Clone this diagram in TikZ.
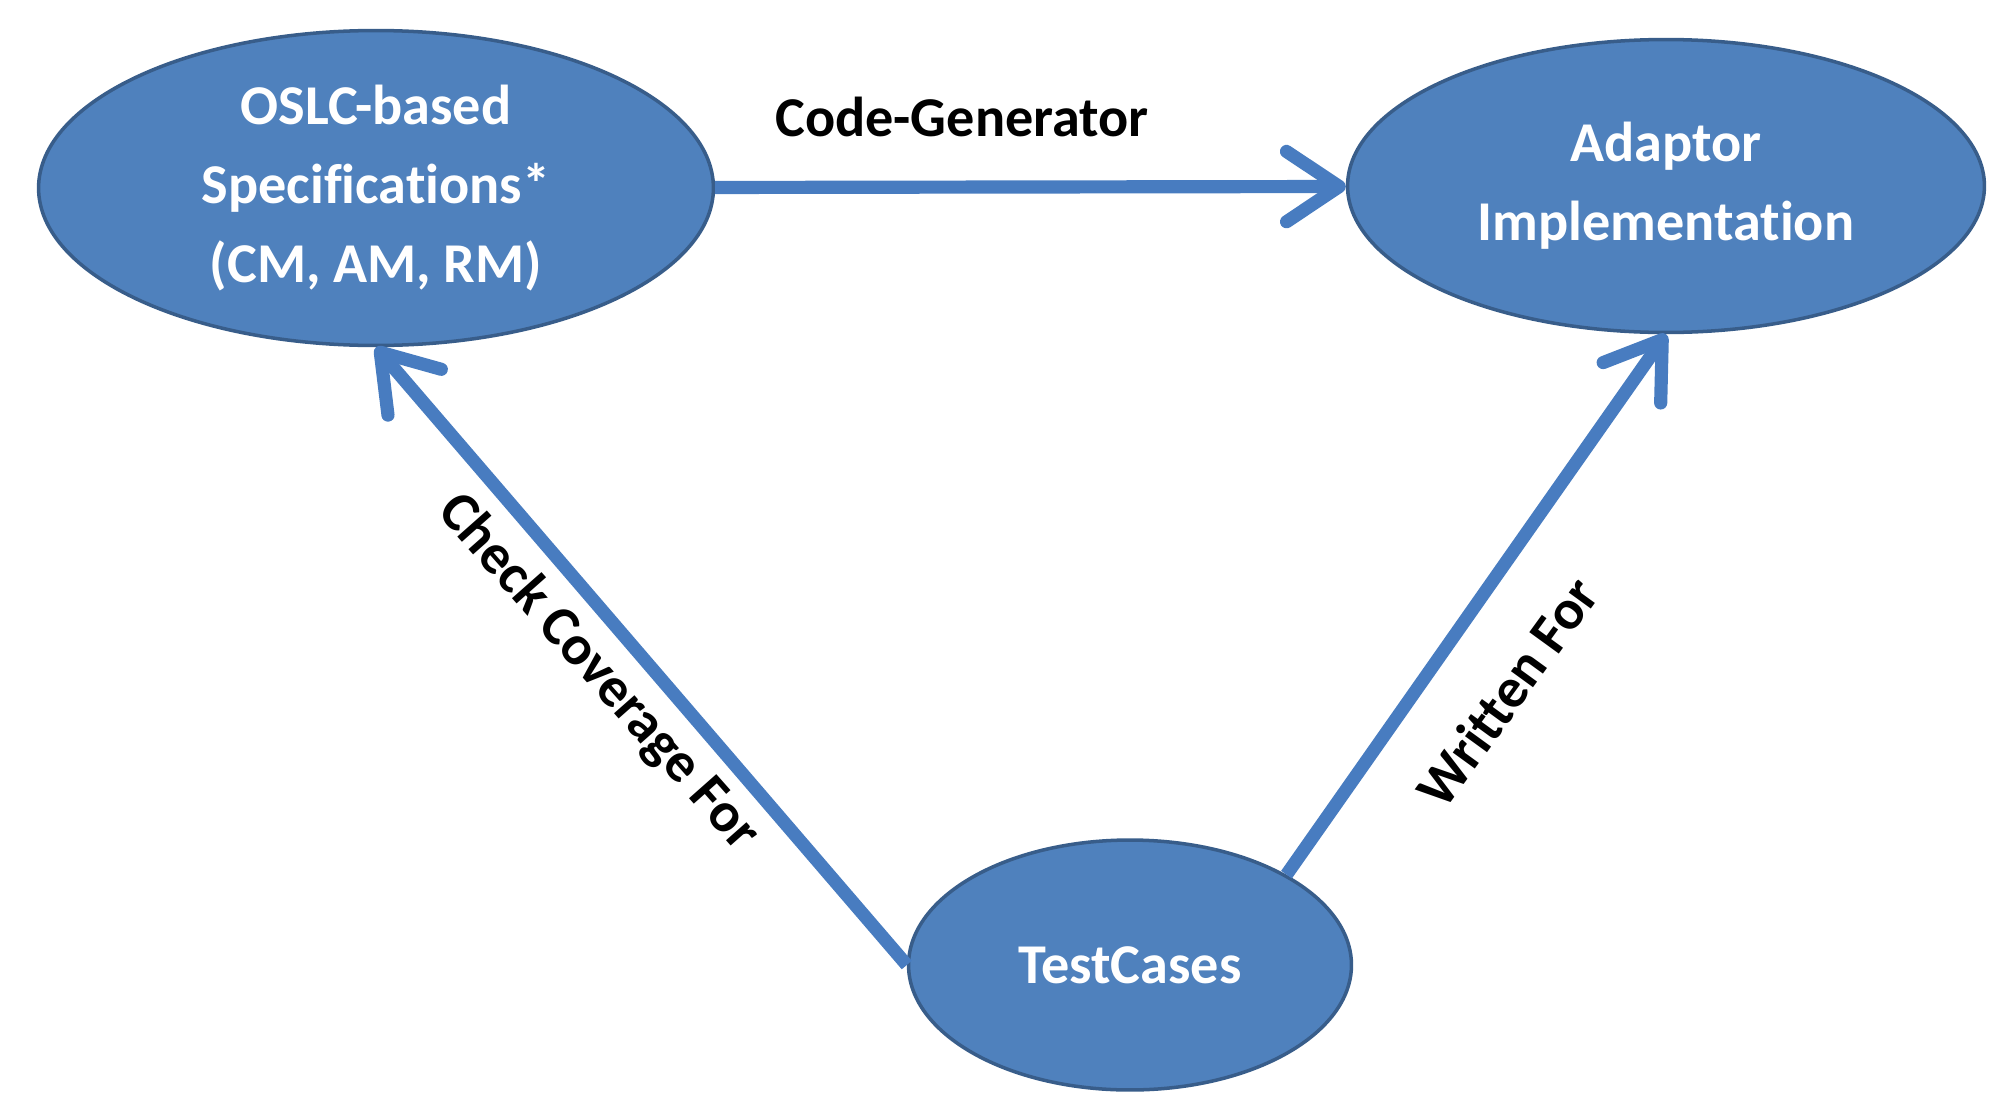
\documentclass[tikz,border=0pt]{standalone}
\usepackage{fontspec}
\setmainfont{Carlito}[Ligatures={NoCommon,NoRare}]
\usetikzlibrary{positioning,arrows.meta,shapes.geometric,calc}
\definecolor{ovalblue}{RGB}{79,129,189}
\definecolor{ovaledge}{RGB}{56,93,138}
\definecolor{arrowblue}{RGB}{72,124,192}

\begin{document}
\begin{tikzpicture}[x=0.02cm, y=-0.02cm,
    every node/.style={font=\fontsize{32}{45}\selectfont\bfseries},
    oval/.style={ellipse, draw=ovaledge, line width=2pt, fill=ovalblue, text=white, align=center, inner sep=0pt},
    link/.style={draw=arrowblue, line width=7.5pt, -{Straight Barb[length=30pt,width=40pt,round]}}]
        \useasboundingbox (0,0) rectangle (1998,1099);
        \node[oval, minimum width=13.5cm, minimum height=6.3cm] (oslc) at (376,188) {OSLC-based\\Specifications*\\(CM, AM, RM)};
        \node[oval, minimum width=12.74cm, minimum height=5.86cm] (adp) at (1666,186) {Adaptor\\Implementation};
        \node[oval, minimum width=8.86cm, minimum height=5cm] (tc) at (1130,965) {TestCases};
        \draw[link] (oslc) -- (adp);
        \draw[link] (tc.west) -- (oslc.south);
        \draw[link] (tc.30) -- (adp.south);
        \node (gen) at (962,117) {Code-Generator};
        \node[rotate=-48.5] (chk) at (598,673) {Check Coverage For};
        \node[rotate=54] (wri) at (1507,692) {Written For};
\end{tikzpicture}
\end{document}
